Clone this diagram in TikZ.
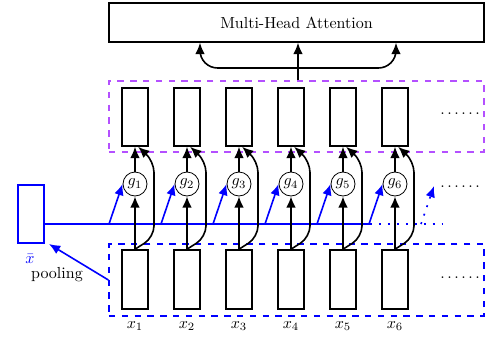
\documentclass[tikz,border=0pt]{standalone}
\usetikzlibrary{arrows.meta,calc}
\definecolor{purp}{RGB}{180,80,255}
\definecolor{bl}{RGB}{0,0,255}
\newcommand{\sixdots}{.\kern1.6pt.\kern1.6pt.\kern1.6pt.\kern1.6pt.\kern1.6pt.}
\begin{document}
\begin{tikzpicture}[x=0.625pt,y=-0.625pt,
  box/.style={draw,line width=1pt,minimum width=16.25pt,minimum height=36.25pt,inner sep=0pt},
  gnode/.style={draw,circle,line width=0.5pt,minimum size=15pt,inner sep=0pt},
  arr/.style={line width=1pt,-{Latex[length=7pt,width=6pt]}},
  barr/.style={line width=1pt,bl,-{Latex[length=7pt,width=6pt]}},
  ldot/.style={dash pattern=on 1.2pt off 4.4pt},
  dbox/.style={draw,dash pattern=on 4pt off 4pt,line width=0.7pt,minimum width=234.4pt,inner sep=0pt},
  dotsn/.style={anchor=base,inner sep=0pt}]
\useasboundingbox (0,0) rectangle (487,341);
% attention
\node[draw,line width=1pt,minimum width=234.4pt,minimum height=24.4pt,inner sep=0pt] (att) at (296.5,22.5) {Multi-Head Attention};
% dashed groups
\node[dbox,purp,minimum height=44.4pt] (top) at (296.5,116.5) {};
\node[dbox,bl,minimum height=45pt] (low) at (296.5,280) {};
% columns
\foreach \i in {1,...,6}{
  \pgfmathsetmacro{\xx}{135+52*(\i-1)}
  \node[box] (u\i) at (\xx,117) {};
  \node[box,minimum height=36.9pt] (l\i) at (\xx,279.5) {};
  \node[gnode] (g\i) at (\xx,184) {$g_{\i}$};
  \node (x\i) at (\xx,326) {$x_{\i}$};
  \coordinate (b\i) at ({109+52*(\i-1)},224);
}
% x bar
\node[box,bl] (xbar) at (31,214) {};
\node[bl] (xbl) at (30,259) {$\bar{x}$};
\node (pool) at (57,275) {pooling};
\coordinate (h0) at (xbar.east |- 0,224);
\coordinate (h1) at (370,224);
\coordinate (h2) at (443,224);
\coordinate (d0) at (421,224);
\coordinate (d1) at (434,186);
\coordinate (ptip) at (49,244);
% dots
\node[dotsn] (dt1) at (460,114) {\sixdots};
\node[dotsn] (dt2) at (460,187) {\sixdots};
\node[dotsn] (dt3) at (460,278) {\sixdots};
% blue lines
\draw[bl,line width=1pt] (h0) -- (h1);
\draw[bl,line width=1pt,ldot] (h1) -- (h2);
\draw[barr,ldot] (d0) -- (d1);
\draw[barr] (low.west) -- (ptip);
% column connectors
\foreach \i in {1,...,6}{
  \draw[barr] (b\i) -- (g\i.west);
  \draw[arr] (l\i.north) -- (g\i.south);
  \draw[arr] (g\i.north) -- (u\i.south);
  \draw[arr,rounded corners=7pt] (l\i.north) -- ++(19,-12) -- ++(0,-76) -- ([xshift=2pt]u\i.south);
}
% to attention
\coordinate (j) at (298,68);
\draw[arr] (top.north -| j) -- (att.south -| j);
\draw[arr,rounded corners=11pt] (j) -- (200,68) -- (att.south -| 200,0);
\draw[arr,rounded corners=11pt] (j) -- (396,68) -- (att.south -| 396,0);
\end{tikzpicture}
\end{document}
